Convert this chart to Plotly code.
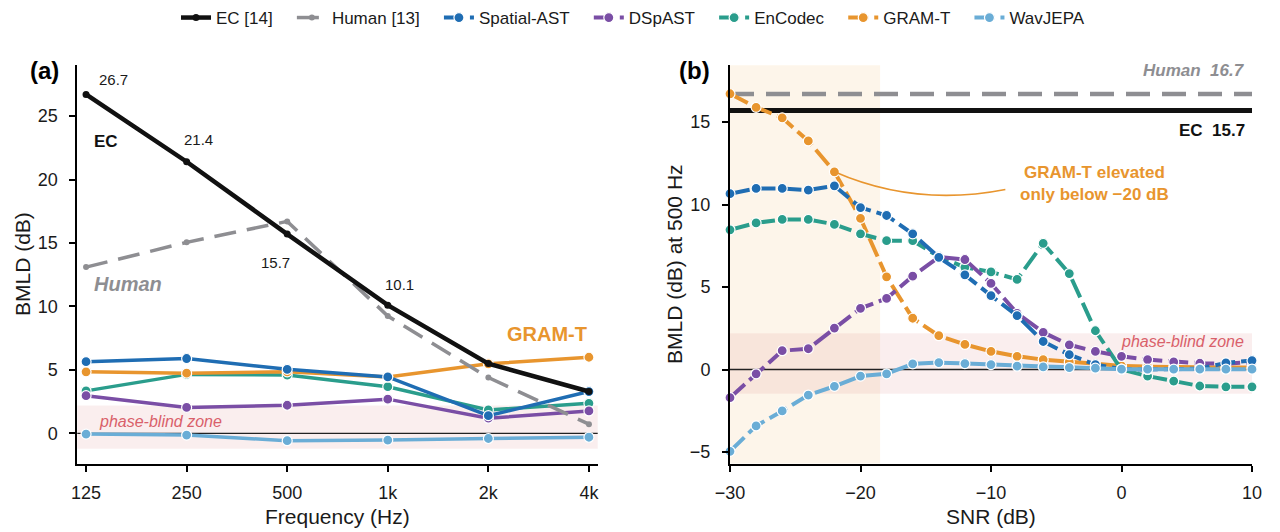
import plotly.graph_objects as go

# ---------------- data ----------------
freq = [125, 250, 500, 1000, 2000, 4000]
freq_labels = ["125", "250", "500", "1k", "2k", "4k"]
ec_freq = [26.7, 21.4, 15.7, 10.1, 5.5, 3.3]
human_freq = [13.1, 15.05, 16.7, 9.25, 4.4, 0.73]
spatial_freq = [5.65, 5.9, 5.05, 4.45, 1.4, 3.3]
dspast_freq = [2.97, 2.05, 2.22, 2.7, 1.2, 1.77]
encodec_freq = [3.35, 4.65, 4.6, 3.68, 1.85, 2.37]
gramt_freq = [4.85, 4.75, 4.85, 4.45, 5.48, 6.0]
wavjepa_freq = [-0.05, -0.13, -0.57, -0.52, -0.4, -0.3]

snr = [-30, -28, -26, -24, -22, -20, -18, -16, -14, -12, -10,
       -8, -6, -4, -2, 0, 2, 4, 6, 8, 10]
gramt_snr = [16.72, 15.9, 15.26, 13.86, 11.99, 9.17, 5.62, 3.11, 2.05, 1.52, 1.1,
             0.8, 0.6, 0.46, 0.32, 0.22, 0.17, 0.14, 0.12, 0.12, 0.12]
spatial_snr = [10.66, 10.98, 10.98, 10.88, 11.14, 9.82, 9.34, 8.23, 6.8, 5.74, 4.48,
               3.27, 1.7, 0.9, 0.3, 0.02, 0.0, 0.0, 0.05, 0.4, 0.54]
encodec_snr = [8.47, 8.89, 9.1, 9.1, 8.8, 8.23, 7.81, 7.81, 6.85, 6.2, 5.92,
               5.46, 7.65, 5.82, 2.35, 0.0, -0.4, -0.7, -1.0, -1.05, -1.05]
dspast_snr = [-1.71, -0.26, 1.14, 1.26, 2.51, 3.71, 4.31, 5.66, 6.82, 6.67, 5.22,
              3.41, 2.25, 1.5, 1.1, 0.8, 0.6, 0.46, 0.38, 0.35, 0.45]
wavjepa_snr = [-4.96, -3.42, -2.51, -1.55, -1.02, -0.4, -0.26, 0.34, 0.42, 0.36, 0.3,
               0.2, 0.16, 0.12, 0.08, 0.02, 0.02, 0.02, 0.02, 0.02, 0.02]
ec_ref = 15.7
human_ref = 16.7

legend_names = ["EC [14]", "Human [13]", "Spatial-AST", "DSpAST", "EnCodec", "GRAM-T", "WavJEPA"]
colors = {
    "EC": "#111111",
    "Human": "#8e8e92",
    "Spatial-AST": "#1f6db3",
    "DSpAST": "#7a4ea5",
    "EnCodec": "#2a9d8c",
    "GRAM-T": "#e8952e",
    "WavJEPA": "#6aadd6",
}
freq_series = {"Spatial-AST": spatial_freq, "DSpAST": dspast_freq, "EnCodec": encodec_freq,
               "GRAM-T": gramt_freq, "WavJEPA": wavjepa_freq}
snr_series = {"Spatial-AST": spatial_snr, "DSpAST": dspast_snr, "EnCodec": encodec_snr,
              "GRAM-T": gramt_snr, "WavJEPA": wavjepa_snr}

FONT = "Liberation Sans, Arial, Helvetica, sans-serif"
W, H = 1280, 532
PAD = "\u00a0\u00a0\u00a0"


def P(px, py):
    return px / W, 1 - py / H


fig = go.Figure()

# ---------------- panel (a) ----------------
for name in ["EnCodec", "DSpAST", "WavJEPA", "GRAM-T", "Spatial-AST"]:
    fig.add_trace(go.Scatter(
        x=freq, y=freq_series[name], mode="lines+markers", name=name,
        line=dict(color=colors[name], width=3.5),
        marker=dict(size=10, color=colors[name], line=dict(color="white", width=1.2)),
        xaxis="x", yaxis="y", showlegend=False, cliponaxis=False))

fig.add_trace(go.Scatter(
    x=freq, y=human_freq, mode="lines+markers", name=legend_names[1] + PAD,
    line=dict(color=colors["Human"], width=3.5, dash="22px,11px"),
    marker=dict(size=6, color=colors["Human"]),
    xaxis="x", yaxis="y", showlegend=True, legendrank=2, cliponaxis=False))
fig.add_trace(go.Scatter(
    x=freq, y=ec_freq, mode="lines+markers", name=legend_names[0] + PAD,
    line=dict(color=colors["EC"], width=4.5),
    marker=dict(size=7, color=colors["EC"]),
    xaxis="x", yaxis="y", showlegend=True, legendrank=1, cliponaxis=False))

# ---------------- panel (b) ----------------
fig.add_trace(go.Scatter(
    x=[snr[0], snr[-1]], y=[human_ref, human_ref], mode="lines",
    line=dict(color=colors["Human"], width=4.5, dash="24px,12px"),
    xaxis="x2", yaxis="y2", showlegend=False, hoverinfo="skip"))
fig.add_trace(go.Scatter(
    x=[snr[0], snr[-1]], y=[ec_ref, ec_ref], mode="lines",
    line=dict(color=colors["EC"], width=5),
    xaxis="x2", yaxis="y2", showlegend=False, hoverinfo="skip"))

rank = {"Spatial-AST": 3, "DSpAST": 4, "EnCodec": 5, "GRAM-T": 6, "WavJEPA": 7}
for name in ["GRAM-T", "EnCodec", "DSpAST", "Spatial-AST", "WavJEPA"]:
    fig.add_trace(go.Scatter(
        x=snr, y=snr_series[name], mode="lines+markers", name=name + PAD,
        line=dict(color=colors[name], width=4, dash="20px,6px"),
        marker=dict(size=10, color=colors[name], line=dict(color="white", width=1.2)),
        xaxis="x2", yaxis="y2", showlegend=True, legendrank=rank[name], cliponaxis=False))

# ---------------- shapes ----------------
shapes = [
    dict(type="rect", xref="x domain", yref="y", x0=0, x1=1, y0=-1.2, y1=2.2,
         fillcolor="rgba(215,120,120,0.13)", line=dict(width=0), layer="below"),
    dict(type="line", xref="x domain", yref="y", x0=0, x1=1, y0=0, y1=0,
         line=dict(color="#222222", width=1.3), layer="below"),
    dict(type="rect", xref="x2", yref="y2 domain", x0=-30, x1=-18.5, y0=0, y1=1,
         fillcolor="rgba(245,200,140,0.18)", line=dict(width=0), layer="below"),
    dict(type="rect", xref="x2 domain", yref="y2", x0=0, x1=1, y0=-1.47, y1=2.2,
         fillcolor="rgba(215,120,120,0.13)", line=dict(width=0), layer="below"),
    dict(type="line", xref="x2 domain", yref="y2", x0=0, x1=1, y0=0, y1=0,
         line=dict(color="#222222", width=1.3), layer="below"),
    dict(type="path", xref="x2", yref="y2",
         path=f"M {snr[4]},{gramt_snr[4]} Q -15.8,9.84 -8.9,10.92",
         line=dict(color=colors["GRAM-T"], width=1.6), layer="above"),
]

# ---------------- annotations ----------------
ann = []


def text(px, py, s, size, color="#1a1a1a", xanchor="center", yanchor="middle", angle=0):
    x, y = P(px, py)
    ann.append(dict(x=x, y=y, xref="paper", yref="paper", text=s, showarrow=False,
                    font=dict(family=FONT, size=size, color=color),
                    xanchor=xanchor, yanchor=yanchor, textangle=angle))


text(44, 67, "<b>(a)</b>", 24, "black")
text(694, 67, "<b>(b)</b>", 24, "black")
text(22, 262, "BMLD (dB)", 21, "#1a1a1a", angle=-90)
text(674, 262, "BMLD (dB) at 500 Hz", 21, "#1a1a1a", angle=-90)
text(337, 516, "Frequency (Hz)", 21)
text(991, 516, "SNR (dB)", 21)
text(113, 76, f"{ec_freq[0]}", 15)
text(198, 137, f"{ec_freq[1]}", 15)
text(275, 260, f"{ec_freq[2]}", 15)
text(399, 283, f"{ec_freq[3]}", 15)
text(106, 139, "<b>EC</b>", 17, "#111111")
text(128, 282, "<b><i>Human</i></b>", 20, colors["Human"])
text(547, 332, "<b>GRAM-T</b>", 20, colors["GRAM-T"])
text(97, 421, "<i>phase-blind zone</i>", 16, "#d9606a", xanchor="left")
text(1247, 67, f"<b><i>Human\u00a0\u00a0{human_ref}</i></b>", 17, colors["Human"], xanchor="right")
text(1247, 127, f"<b>EC\u00a0\u00a0{ec_ref}</b>", 17, "#111111", xanchor="right")
text(1018, 181, "<b>GRAM-T elevated<br>only below \u221220 dB</b>", 17, colors["GRAM-T"],
     xanchor="left")
text(1246, 340, "<i>phase-blind zone</i>", 16, "#d9606a", xanchor="right")

axis_common = dict(
    showgrid=False, zeroline=False, ticks="outside", ticklen=6, tickwidth=1.5,
    tickcolor="black", tickfont=dict(family=FONT, size=18, color="#1a1a1a"),
    linecolor="black", linewidth=2, showline=True, automargin=False,
)

ydom = [1 - 463 / H, 1 - 61.7 / H]
fig.update_layout(
    width=W, height=H,
    margin=dict(l=0, r=0, t=0, b=0),
    paper_bgcolor="white", plot_bgcolor="white",
    font=dict(family=FONT, color="#1a1a1a"),
    xaxis=dict(axis_common, type="log", domain=[77.3 / W, 597.7 / W],
               range=[2.0707, 3.6283], tickvals=freq, ticktext=freq_labels,
               anchor="y", ticklabelstandoff=6),
    yaxis=dict(axis_common, domain=ydom, range=[-2.37, 29.0],
               tickvals=[0, 5, 10, 15, 20, 25], anchor="x", ticklabelstandoff=8),
    xaxis2=dict(axis_common, domain=[730 / W, 1252 / W], range=[-30, 10],
                tickvals=[-30, -20, -10, 0, 10],
                ticktext=["\u221230", "\u221220", "\u221210", "0", "10"],
                anchor="y2", ticklabelstandoff=6),
    yaxis2=dict(axis_common, domain=ydom, range=[-5.7, 18.45],
                tickvals=[-5, 0, 5, 10, 15],
                ticktext=["\u22125", "0", "5", "10", "15"],
                anchor="x2", ticklabelstandoff=8),
    legend=dict(orientation="h", x=0.5, xanchor="center", y=1 - 14 / H, yanchor="middle",
                font=dict(family=FONT, size=17, color="#1a1a1a"),
                bgcolor="rgba(0,0,0,0)", itemwidth=30, tracegroupgap=0),
    shapes=shapes,
    annotations=ann,
)

fig.write_html(
    "out.html",
    config={"displayModeBar": False},
    post_script="document.body.style.margin='0';document.body.style.overflow='hidden';"
                "document.documentElement.style.overflow='hidden';",
)
